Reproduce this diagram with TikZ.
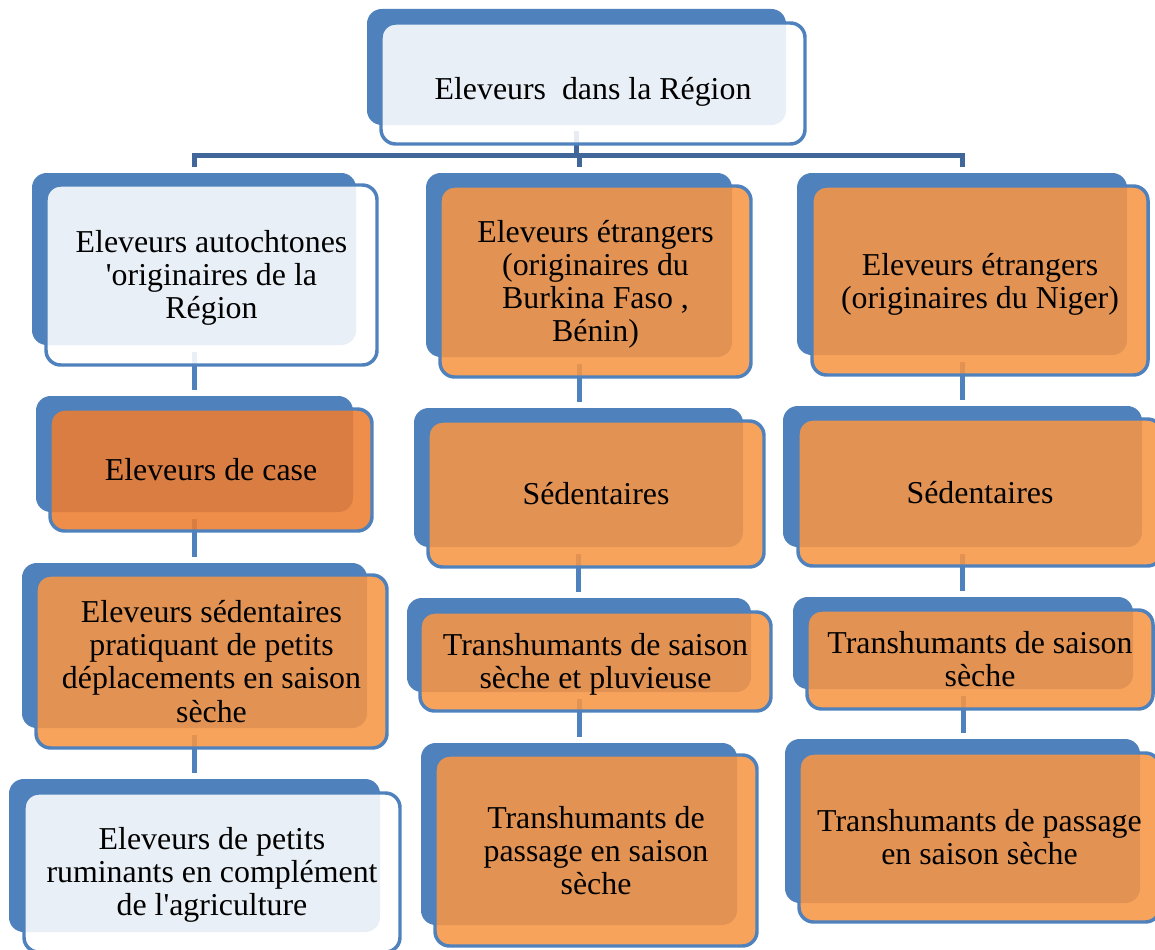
\documentclass[tikz,border=0pt]{standalone}
\usepackage{fontspec}
\setmainfont{Liberation Serif}
\usetikzlibrary{fit}

\definecolor{elblue}{RGB}{79,129,189}
\definecolor{busblue}{RGB}{65,102,154}
\definecolor{elorange}{RGB}{247,150,70}
\definecolor{caseorange}{RGB}{237,125,49}

\tikzset{
  backbox/.style={fill=elblue, rounded corners=11pt, inner sep=0pt, outer sep=0pt},
  frontbox/.style={draw=elblue, line width=2.6pt, rounded corners=11pt,
    fill opacity=0.88, draw opacity=1, inner sep=0pt, outer sep=0pt},
  whitebox/.style={frontbox, fill=white},
  orangebox/.style={frontbox, fill=elorange},
  casebox/.style={frontbox, fill=caseorange},
  boxtext/.style={align=center, inner sep=0pt, font=\fontsize{23.9pt}{24.8pt}\selectfont},
  link/.style={draw=elblue, line width=3.75pt, shorten <=5.25pt, shorten >=4.5pt},
  bus/.style={draw=busblue, line width=3.75pt}
}

\begin{document}
\begin{tikzpicture}[x=0.75pt, y=-0.75pt]

\useasboundingbox (0,0) rectangle (1155,949);
\clip (0,0) rectangle (1155,949);

% back rectangles
\node (topb) [backbox, fit={(367,9) (786,125)}] {};
\node (c1r1b) [backbox, fit={(32,173) (356,345)}] {};
\node (c2r1b) [backbox, fit={(426,173) (732,357)}] {};
\node (c3r1b) [backbox, fit={(797,173) (1127,355)}] {};
\node (c1r2b) [backbox, fit={(36,396) (353,512)}] {};
\node (c1r3b) [backbox, fit={(22,563) (367,728)}] {};
\node (c1r4b) [backbox, fit={(9,779) (380,932)}] {};
\node (c2r2b) [backbox, fit={(414,408) (743,547)}] {};
\node (c2r3b) [backbox, fit={(407,598) (751,692)}] {};
\node (c2r4b) [backbox, fit={(421,743) (737,925)}] {};
\node (c3r2b) [backbox, fit={(783,406) (1142,547)}] {};
\node (c3r3b) [backbox, fit={(793,597) (1133,689)}] {};
\node (c3r4b) [backbox, fit={(785,739) (1140,903)}] {};

% connectors
\coordinate (bus) at (577,155);
\draw[bus, shorten <=4.5pt] (topb.south) -- (topb.south |- bus);
\draw[bus, shorten <=4.5pt, shorten >=4.5pt] (c1r1b.north) |- (bus) -| (c3r1b.north);
\draw[bus, shorten >=4.5pt] (c2r1b.north |- bus) -- (c2r1b.north);

\draw[link] (c1r1b.south) -- (c1r1b.south |- c1r2b.north);
\draw[link] (c1r2b.south) -- (c1r2b.south |- c1r3b.north);
\draw[link] (c1r3b.south) -- (c1r3b.south |- c1r4b.north);
\draw[link] (c2r1b.south) -- (c2r1b.south |- c2r2b.north);
\draw[link] (c2r2b.south) -- (c2r2b.south |- c2r3b.north);
\draw[link] (c2r3b.south) -- (c2r3b.south |- c2r4b.north);
\draw[link] (c3r1b.south) -- (c3r1b.south |- c3r2b.north);
\draw[link] (c3r2b.south) -- (c3r2b.south |- c3r3b.north);
\draw[link] (c3r3b.south) -- (c3r3b.south |- c3r4b.north);

% front rectangles
\node (top) [whitebox, fit={(381,23) (805,144)}] {};
\node (c1r1) [whitebox, fit={(46,185) (377,365)}] {};
\node (c2r1) [orangebox, fit={(440,186) (751,377)}] {};
\node (c3r1) [orangebox, fit={(812,186) (1148,375)}] {};
\node (c1r2) [casebox, fit={(50,409) (372,531)}] {};
\node (c1r3) [orangebox, fit={(36,575) (387,748)}] {};
\node (c1r4) [whitebox, fit={(24,793) (400,952)}] {};
\node (c2r2) [orangebox, fit={(428,421) (764,567)}] {};
\node (c2r3) [orangebox, fit={(420,612) (771,711)}] {};
\node (c2r4) [orangebox, fit={(435,755) (757,946)}] {};
\node (c3r2) [orangebox, fit={(798,419) (1162,566)}] {};
\node (c3r3) [orangebox, fit={(807,610) (1153,709)}] {};
\node (c3r4) [orangebox, fit={(799,753) (1160,922)}] {};

% texts
\node (topt) [boxtext] at ([yshift=-6.5pt]top.center) {Eleveurs\ \ dans la Région};
\node (c1r1t) [boxtext] at ([yshift=-2.25pt]c1r1.center) {Eleveurs autochtones\\\textquotesingle originaires de la\\Région};
\node (c2r1t) [boxtext] at ([yshift=-2.25pt]c2r1.center) {Eleveurs étrangers\\(originaires du\\Burkina Faso ,\\Bénin)};
\node (c3r1t) [boxtext] at ([yshift=-2.75pt]c3r1.center) {Eleveurs étrangers\\(originaires du Niger)};
\node (c1r2t) [boxtext] at (c1r2.center) {Eleveurs de case};
\node (c1r3t) [boxtext] at (c1r3.center) {Eleveurs sédentaires\\pratiquant de petits\\déplacements en saison\\sèche};
\node (c1r4t) [boxtext] at ([yshift=-1.5pt]c1r4.center) {Eleveurs de petits\\ruminants en complément\\de l\textquotesingle agriculture};
\node (c2r2t) [boxtext] at (c2r2.center) {Sédentaires};
\node (c2r3t) [boxtext] at ([yshift=-1.9pt]c2r3.center) {Transhumants de saison\\sèche et pluvieuse};
\node (c2r4t) [boxtext] at (c2r4.center) {Transhumants de\\passage en saison\\sèche};
\node (c3r2t) [boxtext] at (c3r2.center) {Sédentaires};
\node (c3r3t) [boxtext] at (c3r3.center) {Transhumants de saison\\sèche};
\node (c3r4t) [boxtext] at (c3r4.center) {Transhumants de passage\\en saison sèche};

\end{tikzpicture}
\end{document}
